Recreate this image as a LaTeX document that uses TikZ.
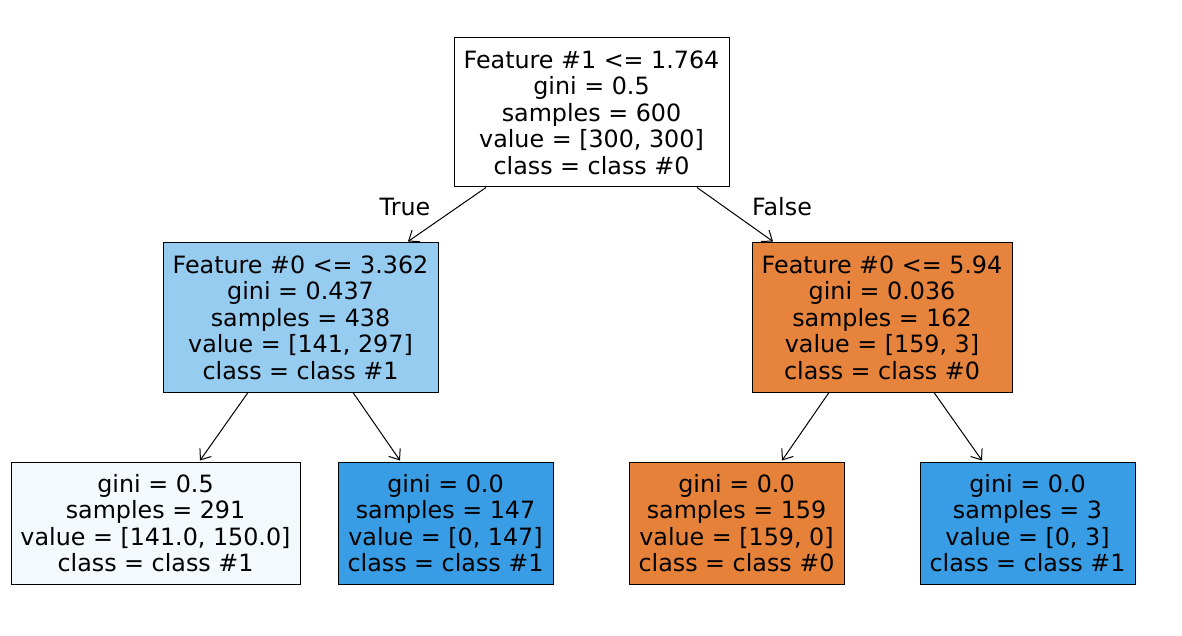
\documentclass[tikz,border=0pt]{standalone}
\usepackage{fontspec}
\setmainfont{DejaVu Sans}
\usetikzlibrary{arrows.meta,calc}
\definecolor{cBlueL}{RGB}{151,204,241}
\definecolor{cOrangeM}{RGB}{230,131,61}
\definecolor{cPale}{RGB}{243,249,253}
\definecolor{cBlue}{RGB}{57,157,229}
\definecolor{cOrange}{RGB}{229,129,57}
\begin{document}
\begin{tikzpicture}[x=1pt,y=-1pt,
  every node/.style={font=\fontsize{23.8}{26.5}\selectfont, inner sep=0pt},
  tbox/.style={draw=black, line width=1pt, align=center, text=black},
  arr/.style={-{Straight Barb[length=9pt,width=14pt]}, line width=1pt},
  lbl/.style={text=black}]
\useasboundingbox (0,0) rectangle (1182,636);
\node[tbox, fill=white, minimum width=275pt, minimum height=149pt] (root) at (591.5,112.5)
  {Feature \#1 <= 1.764\\gini = 0.5\\samples = 600\\value = [300, 300]\\class = class \#0};
\node[tbox, fill=cBlueL, minimum width=275pt, minimum height=149pt] (n1) at (300.5,317.5)
  {Feature \#0 <= 3.362\\gini = 0.437\\samples = 438\\value = [141, 297]\\class = class \#1};
\node[tbox, fill=cOrangeM, minimum width=260pt, minimum height=149pt] (n2) at (882,317.5)
  {Feature \#0 <= 5.94\\gini = 0.036\\samples = 162\\value = [159, 3]\\class = class \#0};
\node[tbox, fill=cPale, minimum width=289pt, minimum height=122pt] (l1) at (155.5,523)
  {gini = 0.5\\samples = 291\\value = [141.0, 150.0]\\class = class \#1};
\node[tbox, fill=cBlue, minimum width=215pt, minimum height=122pt] (l2) at (445.5,523)
  {gini = 0.0\\samples = 147\\value = [0, 147]\\class = class \#1};
\node[tbox, fill=cOrange, minimum width=215pt, minimum height=122pt] (l3) at (736.5,523)
  {gini = 0.0\\samples = 159\\value = [159, 0]\\class = class \#0};
\node[tbox, fill=cBlue, minimum width=215pt, minimum height=122pt] (l4) at (1027.5,523)
  {gini = 0.0\\samples = 3\\value = [0, 3]\\class = class \#1};
\draw[arr] ($(root.south)+(-105.5,0)$) -- ($(n1.north)+(107.5,-1)$);
\draw[arr] ($(root.south)+(105.5,0)$) -- ($(n2.north)+(-109,-1)$);
\draw[arr] ($(n1.south)+(-52.5,0)$) -- ($(l1.north)+(44.5,-1)$);
\draw[arr] ($(n1.south)+(52.5,0)$) -- ($(l2.north)+(-45.5,-1)$);
\draw[arr] ($(n2.south)+(-53,0)$) -- ($(l3.north)+(45.5,-1)$);
\draw[arr] ($(n2.south)+(52,0)$) -- ($(l4.north)+(-45.5,-1)$);
\node[lbl] (tlbl) at (405,207) {True};
\node[lbl] (flbl) at (782,207) {False};
\end{tikzpicture}
\end{document}
